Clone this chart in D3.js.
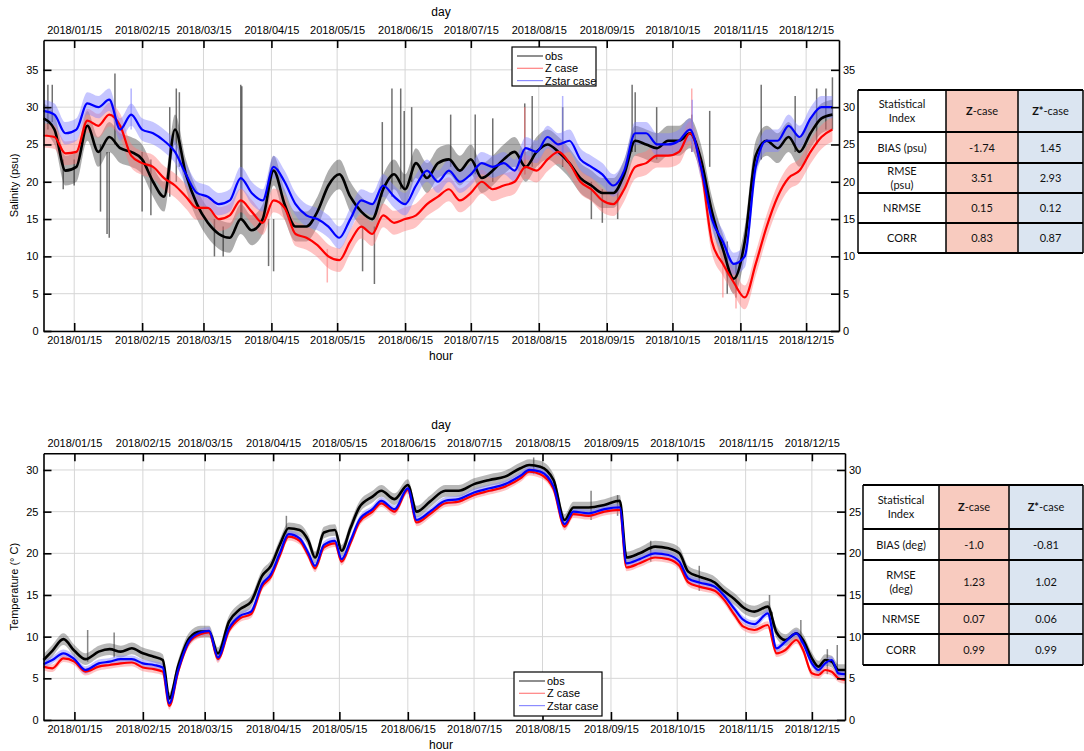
<!DOCTYPE html>
<html>
<head>
<meta charset="utf-8">
<script src="https://d3js.org/d3.v7.min.js"></script>
<style>
  body { margin: 0; background: #fff; }
  svg text { font-family: "Liberation Sans", Arial, Helvetica, sans-serif; }
  .tbl text { font-family: Lato, "Open Sans", sans-serif; }
</style>
</head>
<body>
<svg id="chart" width="1084" height="751"></svg>
<script>
// ---- data (day offsets from 2018/01/01) ----
var startDate = "2018/01/01";
var endDate = "2018/12/30";
var tickLabels = ["2018/01/15","2018/02/15","2018/03/15","2018/04/15","2018/05/15","2018/06/15",
                  "2018/07/15","2018/08/15","2018/09/15","2018/10/15","2018/11/15","2018/12/15"];
var legendNames = ["obs", "Z case", "Zstar case"];

// salinity (psu)
var salDays = [0,5,10,15,20,25,30,35,40,45,50,55,60,65,70,75,80,85,90,95,
  100,105,110,115,120,125,130,135,140,145,150,155,160,165,170,175,180,185,190,195,
  200,205,210,215,220,225,230,235,240,245,250,255,260,265,270,275,280,285,290,295,
  300,305,310,315,320,325,330,335,340,345,350,355,360];
var salObs = [28.5,27,21.5,22,27.5,24,26,24.5,24,23,20,18,27,21,17,14.5,13,12.5,15,13.5,
  15,21.5,17,14,14,16,19.5,21,18,16,15,19,21,19,22.5,20.5,22.5,23,21.5,23,
  20.5,21.5,23,24,22,24,25,24,22.5,20.5,19.5,18.5,18.5,21,25.5,25,24.5,25.5,25.5,26.5,
  23,16,11,7,12,23.5,25.5,24.5,26,24,26.5,28.5,29];
var salZ = [26.2,26,23.8,24,28.2,27.5,29,27.5,23.5,22.5,22,20.5,19.5,18,16.5,16.5,15,15.5,17.5,16,
  14.5,17.5,16.5,13,12.5,11.5,10,9.5,12,14,13,15.5,14.5,15,15.5,17,18,19,17.5,18.5,
  20,19,19.5,20,22,21.5,23,24,22.5,20,19,17.5,17,19,22,22.5,23.5,23.5,24,26.5,
  22,12,9,6.5,4.5,9,14,18,20.5,21.5,24,26,27];
var salZs = [29.5,29,26.5,27,30.5,30,31,27,29,27,26.5,25.5,24,21,18.5,18,17,17.5,20.5,18.5,
  17.5,22,20,17,15.5,15,14,12.5,15,17.5,17,19.5,18,17,19.5,21.5,20,21.5,20,21,
  22.5,22,22.5,21.5,24.5,24,26,25,25.5,23,22,21,19.5,21.5,26.5,26.5,25,25,25.5,27,
  22,15,12,9,10,22,25.5,25.5,27.5,26,28.5,30,30];

// temperature (deg C)
var tmpDays = [0,4,9,14,19,25,30,35,40,45,50,54,57,61,66,71,75,79,84,89,
  94,99,103,107,111,116,120,123,127,132,135,139,143,149,153,159,165,169,175,182,
  188,195,202,209,216,220,225,231,236,240,247,254,261,264,270,277,283,288,292,297,
  304,308,313,317,322,328,332,336,341,344,348,351,354,357,360,363];
var tmpObs = [7.2,8.3,9.7,8.3,7.3,8.2,8.5,8.2,8.6,8.0,7.6,7.2,2.6,6.5,9.8,10.6,10.6,8.0,11.8,13.3,
  14.2,17.3,18.5,21.0,23.0,22.8,21.5,19.5,22.5,22.8,20.3,23.0,25.5,26.8,27.5,26.5,28.2,25.0,26.2,27.5,
  27.5,28.3,28.8,29.2,30.2,30.6,30.4,28.8,24.0,25.5,25.5,25.8,26.3,19.5,20.0,20.8,20.6,20.0,17.8,17.2,
  16.5,15.5,14.5,13.5,13.0,13.6,10.5,9.6,10.4,9.6,7.4,6.4,7.2,7.0,6.0,6.0];
var tmpZ = [6.4,6.2,7.4,7.0,5.8,6.4,6.6,6.8,6.9,6.3,6.1,5.8,1.7,5.8,9.3,10.3,10.5,7.3,10.7,12.2,
  12.7,16.0,17.2,19.7,22.0,21.5,19.7,18.2,20.7,21.2,19.0,21.2,23.7,25.0,26.0,25.0,27.6,23.7,24.7,26.0,
  26.2,27.0,27.5,28.0,29.0,29.8,29.5,27.7,23.2,24.7,24.5,25.0,25.2,18.3,18.8,19.5,19.3,18.5,16.5,16.0,
  15.5,14.5,12.6,11.2,10.8,11.4,8.0,8.4,9.6,8.4,5.6,5.4,6.0,5.8,5.0,4.8];
var tmpZs = [6.7,7.2,8.0,7.3,6.0,6.8,7.0,7.3,7.3,6.8,6.6,6.3,2.0,6.0,9.5,10.5,10.7,7.5,11.0,12.5,
  13.0,16.3,17.5,20.0,22.3,21.8,20.0,18.5,21.0,21.5,19.3,21.5,24.0,25.3,26.3,25.3,27.8,24.0,25.0,26.3,
  26.5,27.3,27.8,28.3,29.3,30.0,29.8,28.0,23.5,25.0,24.8,25.3,25.5,18.8,19.3,20.0,19.8,19.0,17.0,16.5,
  16.0,15.0,13.3,12.0,11.5,12.8,8.6,9.4,10.4,9.2,6.8,6.0,6.8,7.2,5.6,5.5];

// isolated hourly excursions: [day offset, low, high]
var salObsSpikes = [[2,27,33],[4,28,33],[9,19,23],[14,19.5,23],[26,16,25],[29,13,24],[30,12.5,24],
  [32.6,25,34.5],[45,16,24],[49,15.5,23],[57.6,18,30],[60.6,20,32.5],[62,22,32],[78,10,15],[82,10,14],
  [90,15,33],[90.5,15,32.8],[102.7,8.7,15],[105,8,15],[145.6,8,14],[151,6.3,14],[154.6,18,28],
  [159,18,32.5],[163,19,32.5],[164.6,19,29.5],[168,20,30],[185.8,22,29],[197,21,29],[205,20,28.5],
  [219.6,21,30.5],[223,22,31.5],[236.9,22,30],[250,15,20],[255,14.5,19],[262,15,19],[268.6,24,33],
  [270,24,32],[279.8,23,30],[295.8,24,29],[304,22,29.5],[312,5,12],[316,4.5,9],[327.5,23,33],
  [343,24,31.5],[352.8,25,32.5],[357,27,32.5],[360,27,34]];
var salZSpikes = [[129.5,6.5,11],[219.6,21,30],[295.8,24,32.5],[310,4.5,9],[316,3,6]];
var salZsSpikes = [[40,27,32.5],[236.9,23,31.5],[296,24,31]];
var tmpObsSpikes = [[20,7,10.8],[32,7.5,10.5],[110,22,24.5],[222,29.5,31.5],[248,24,27.5],[260,24.5,27],
  [275,19,21.5],[297,15.5,18.5],[328.8,12,15],[330,10,13],[343,9,12],[355,5.5,8.5],[359.5,5.5,9]];

// statistics tables
var tblHeader = ["Statistical\nIndex", "Z-case", "Z*-case"];
var salRows = ["BIAS (psu)", "RMSE\n(psu)", "NRMSE", "CORR"];
var salZStats = ["-1.74", "3.51", "0.15", "0.83"];
var salZsStats = ["1.45", "2.93", "0.12", "0.87"];
var tmpRows = ["BIAS (deg)", "RMSE\n(deg)", "NRMSE", "CORR"];
var tmpZStats = ["-1.0", "1.23", "0.07", "0.99"];
var tmpZsStats = ["-0.81", "1.02", "0.06", "0.99"];

// ---- drawing ----
var svg = d3.select("#chart");
svg.append("rect").attr("width", 1084).attr("height", 751).attr("fill", "#fff");

var parse = d3.timeParse("%Y/%m/%d");
var t0 = parse(startDate);
var fmt = d3.timeFormat("%Y/%m/%d");
function dateAt(d) { return new Date(t0.getTime() + d * 864e5); }
function toSeries(days, arr) { return arr.map(function (v, i) { return { t: dateAt(days[i]), v: v }; }); }
var tickDates = tickLabels.map(parse);

function panel(cfg) {
  var x = d3.scaleTime().domain([t0, parse(endDate)]).range([cfg.left, cfg.right]);
  var y = d3.scaleLinear().domain([0, cfg.yMax]).range([cfg.bottom, cfg.top]);
  var g = svg.append("g");

  // grid
  g.selectAll(".gx").data(tickDates).enter().append("line")
    .attr("x1", x).attr("x2", x).attr("y1", cfg.top).attr("y2", cfg.bottom)
    .attr("stroke", "#d6d6d6").attr("stroke-width", 1);
  g.selectAll(".gy").data(cfg.yTicks).enter().append("line")
    .attr("x1", cfg.left).attr("x2", cfg.right).attr("y1", y).attr("y2", y)
    .attr("stroke", "#d6d6d6").attr("stroke-width", 1);

  var marks = g.append("g");

  // hourly-like faint bands
  cfg.series.forEach(function (s) {
    var data = toSeries(cfg.days, s.values);
    marks.append("path").datum(data)
      .attr("fill", s.faint).attr("fill-opacity", s.bandOpacity)
      .attr("d", d3.area().curve(d3.curveMonotoneX)
        .x(function (d) { return x(d.t); })
        .y0(function (d) { return y(d.v - s.band); })
        .y1(function (d) { return y(d.v + s.band); }));
    marks.selectAll(null).data(s.spikes).enter().append("line")
      .attr("x1", function (d) { return x(dateAt(d[0])); })
      .attr("x2", function (d) { return x(dateAt(d[0])); })
      .attr("y1", function (d) { return y(d[1]); })
      .attr("y2", function (d) { return y(d[2]); })
      .attr("stroke", s.faint).attr("stroke-opacity", s.spikeOpacity).attr("stroke-width", 1.5);
  });
  // daily mean lines
  cfg.series.forEach(function (s) {
    marks.append("path").datum(toSeries(cfg.days, s.values))
      .attr("fill", "none").attr("stroke", s.color).attr("stroke-width", s.width)
      .attr("stroke-linejoin", "round")
      .attr("d", d3.line().curve(d3.curveMonotoneX)
        .x(function (d) { return x(d.t); }).y(function (d) { return y(d.v); }));
  });

  // axes
  var axT = d3.axisTop(x).tickValues(tickDates).tickFormat(fmt).tickSize(-8).tickSizeOuter(0).tickPadding(6);
  var axB = d3.axisBottom(x).tickValues(tickDates).tickFormat(fmt).tickSize(-8).tickSizeOuter(0).tickPadding(5);
  var axL = d3.axisLeft(y).tickValues(cfg.yTicks).tickSize(-8).tickSizeOuter(0).tickPadding(5);
  var axR = d3.axisRight(y).tickValues(cfg.yTicks).tickSize(-8).tickSizeOuter(0).tickPadding(4);
  [[axT, "translate(0," + cfg.top + ")"], [axB, "translate(0," + cfg.bottom + ")"],
   [axL, "translate(" + cfg.left + ",0)"], [axR, "translate(" + cfg.right + ",0)"]].forEach(function (a) {
    var ag = g.append("g").attr("transform", a[1]).call(a[0]);
    ag.select(".domain").attr("stroke", "#000").attr("stroke-width", 1.6);
    ag.selectAll(".tick line").attr("stroke", "#000").attr("stroke-width", 1.6);
    ag.selectAll(".tick text").attr("fill", "#000").style("font-size", "11px");
  });

  g.append("text").attr("x", 441).attr("y", cfg.top - 24).attr("text-anchor", "middle")
    .style("font-size", "12px").text("day");
  g.append("text").attr("x", 441).attr("y", cfg.bottom + 29).attr("text-anchor", "middle")
    .style("font-size", "12px").text("hour");
  g.append("text").attr("transform", "translate(18," + ((cfg.top + cfg.bottom) / 2) + ") rotate(-90)")
    .attr("text-anchor", "middle").style("font-size", "11px").text(cfg.ylabel);

  // legend
  var lg = g.append("g").attr("transform", "translate(" + cfg.legend[0] + "," + cfg.legend[1] + ")");
  lg.append("rect").attr("width", cfg.legend[2]).attr("height", cfg.legend[3])
    .attr("fill", "#fff").attr("stroke", "#000").attr("stroke-width", 1.2);
  cfg.series.forEach(function (s, i) {
    var ly = 9 + i * 12.3;
    lg.append("line").attr("x1", 5).attr("x2", 31).attr("y1", ly).attr("y2", ly)
      .attr("stroke", s.legendColor).attr("stroke-width", 1.2);
    lg.append("text").attr("x", 33).attr("y", ly + 4).style("font-size", "11px").text(legendNames[i]);
  });
}

panel({
  top: 40, bottom: 331, left: 43.5, right: 839, yMax: 39, days: salDays,
  yTicks: [0, 5, 10, 15, 20, 25, 30, 35], ylabel: "Salinity (psu)",
  legend: [512, 47, 84, 39],
  series: [
    { values: salObs, color: "#000", width: 2.6, faint: "#333", band: 2.0, bandOpacity: 0.4, spikes: salObsSpikes, spikeOpacity: 0.7, legendColor: "#444" },
    { values: salZ, color: "#f00", width: 2.2, faint: "#ff7b7b", band: 1.6, bandOpacity: 0.45, spikes: salZSpikes, spikeOpacity: 0.6, legendColor: "#ff8080" },
    { values: salZs, color: "#00f", width: 2.2, faint: "#8080ff", band: 1.5, bandOpacity: 0.45, spikes: salZsSpikes, spikeOpacity: 0.6, legendColor: "#8c8cff" }
  ]
});

panel({
  top: 453.3, bottom: 720, left: 43.5, right: 845, yMax: 32, days: tmpDays,
  yTicks: [0, 5, 10, 15, 20, 25, 30], ylabel: "Temperature (° C)",
  legend: [514, 672, 88, 44],
  series: [
    { values: tmpObs, color: "#000", width: 2.6, faint: "#333", band: 0.7, bandOpacity: 0.35, spikes: tmpObsSpikes, spikeOpacity: 0.6, legendColor: "#444" },
    { values: tmpZ, color: "#f00", width: 2.2, faint: "#ff7b7b", band: 0.45, bandOpacity: 0.45, spikes: [], spikeOpacity: 0.6, legendColor: "#ff8080" },
    { values: tmpZs, color: "#00f", width: 2.2, faint: "#8080ff", band: 0.45, bandOpacity: 0.45, spikes: [], spikeOpacity: 0.6, legendColor: "#8c8cff" }
  ]
});

// ---- statistics tables ----
function table(xs, ys, rows, zs, zss) {
  var g = svg.append("g").attr("class", "tbl");
  var fills = ["#fff", "#f8cbbf", "#dbe5f1"];
  for (var c = 0; c < 3; c++) {
    g.append("rect").attr("x", xs[c]).attr("y", ys[0]).attr("width", xs[c + 1] - xs[c])
      .attr("height", ys[ys.length - 1] - ys[0]).attr("fill", fills[c]);
  }
  var cells = [tblHeader].concat(rows.map(function (r, i) { return [r, zs[i], zss[i]]; }));
  cells.forEach(function (row, r) {
    row.forEach(function (txt, c) {
      var cx = (xs[c] + xs[c + 1]) / 2, cy = (ys[r] + ys[r + 1]) / 2;
      var lines = txt.split("\n");
      var t = g.append("text").attr("text-anchor", "middle").style("font-size", "11px").attr("fill", "#111");
      lines.forEach(function (ln, k) {
        var ts = t.append("tspan").attr("x", cx).attr("y", cy + 4 + (k - (lines.length - 1) / 2) * 14);
        if (r === 0 && c > 0) {
          var head = ln.split("-")[0];
          ts.append("tspan").style("font-weight", "bold").text(head);
          ts.append("tspan").text("-" + ln.split("-")[1]);
        } else {
          ts.text(ln);
        }
      });
    });
  });
  ys.forEach(function (yy) {
    g.append("line").attr("x1", xs[0]).attr("x2", xs[3]).attr("y1", yy).attr("y2", yy)
      .attr("stroke", "#000").attr("stroke-width", 2);
  });
  xs.forEach(function (xx) {
    g.append("line").attr("x1", xx).attr("x2", xx).attr("y1", ys[0]).attr("y2", ys[ys.length - 1])
      .attr("stroke", "#000").attr("stroke-width", 1.5);
  });
}
table([858, 946, 1018, 1083], [90, 132, 163, 193, 223, 253], salRows, salZStats, salZsStats);
table([863, 939, 1009, 1083], [485, 529, 560, 604, 634, 665], tmpRows, tmpZStats, tmpZsStats);
</script>
</body>
</html>
